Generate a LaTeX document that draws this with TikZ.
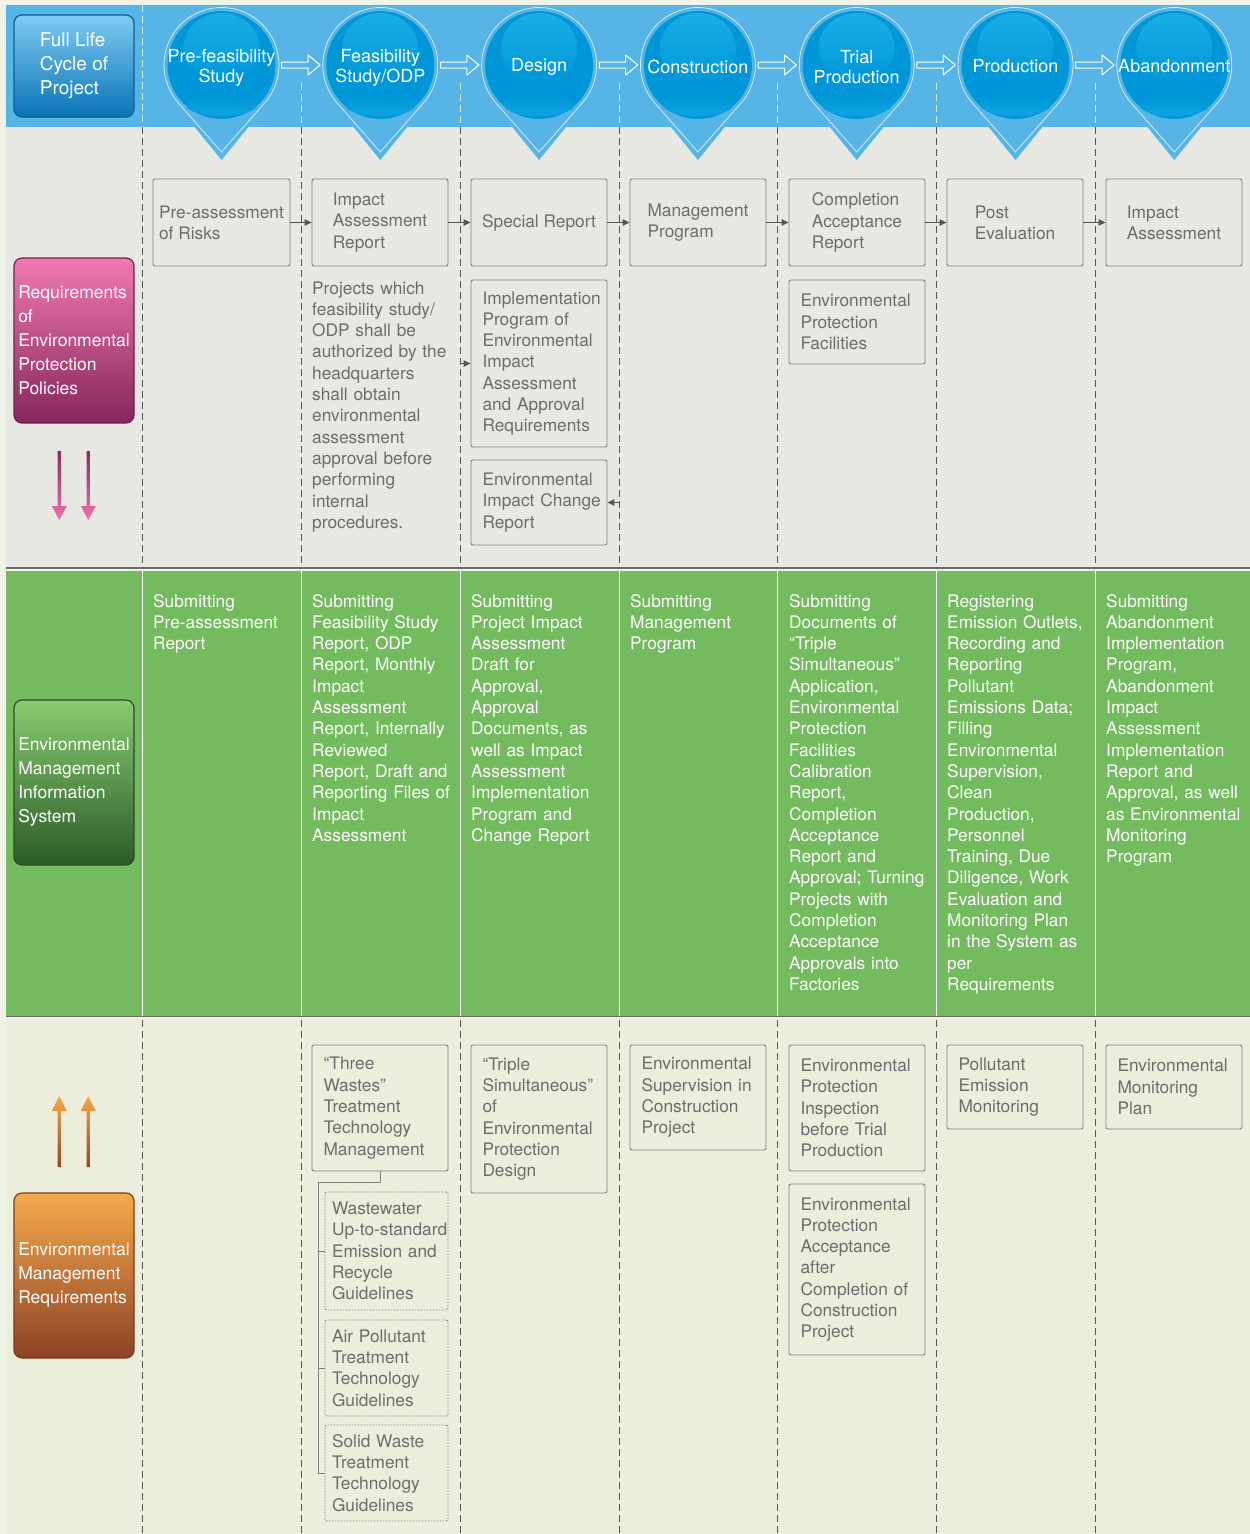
\documentclass[tikz,border=0pt]{standalone}
\usepackage{fontspec}
\setmainfont{TeX Gyre Heros}
\usetikzlibrary{arrows.meta,calc}

\definecolor{bandblue}{HTML}{56B5E6}
\definecolor{pinblue}{HTML}{0096D8}
\definecolor{pinhi}{HTML}{1AAEE6}
\definecolor{marginc}{HTML}{EEF3E6}
\definecolor{grayband}{HTML}{E8E8E2}
\definecolor{greenband}{HTML}{74BB5F}
\definecolor{beigeband}{HTML}{EDEDDE}
\definecolor{sepline}{HTML}{6A6A6A}
\definecolor{txtc}{HTML}{6C6C6C}
\definecolor{boxline}{HTML}{808080}
\definecolor{dashc}{HTML}{555555}
\definecolor{lightdash}{HTML}{D6ECF8}
\definecolor{arrowc}{HTML}{555555}
\definecolor{pinkdark}{HTML}{8B2A5F}
\definecolor{pinkarr}{HTML}{EE72A9}
\definecolor{orarr}{HTML}{F5A84A}
\definecolor{ordark}{HTML}{94461F}
\definecolor{lifetop}{HTML}{7ECBF2}
\definecolor{lifebot}{HTML}{0A74B6}
\definecolor{lifeedge}{HTML}{0A5E90}
\definecolor{reqtop}{HTML}{F07AB0}
\definecolor{reqbot}{HTML}{86265C}
\definecolor{reqedge}{HTML}{74204F}
\definecolor{emistop}{HTML}{88CB70}
\definecolor{emisbot}{HTML}{2C5A2A}
\definecolor{emisedge}{HTML}{284E26}
\definecolor{emrtop}{HTML}{F6AA4C}
\definecolor{emrbot}{HTML}{8C4226}
\definecolor{emredge}{HTML}{7A3A20}

\newcommand\BodyFnt{\fontsize{17.3}{21.3}\selectfont}
\newcommand\SideFnt{\fontsize{17.5}{24}\selectfont}
\newcommand\PinFnt{\fontsize{18}{20}\selectfont}

% [style] name x1 y1 x2 y2 text
\newcommand\PBox[7][box]{\node[#1,minimum width={#5-#3},minimum height={#6-#4}] (#2) at ({(#3+#5)/2},{(#4+#6)/2}) {#7};}
\newcommand\GText[3]{\node[gtext] (#1) at (#2,607) {#3};}

\begin{document}
\begin{tikzpicture}[x=1pt,y=-1pt,
  box/.style={draw=boxline, line width=0.9, rounded corners=2, text=txtc, align=left, inner sep=1, font=\BodyFnt},
  lbox/.style={box, text width=113, inner xsep=11.5},
  dbox/.style={box, text width=109, inner xsep=7, dash pattern=on 1.5pt off 1.5pt},
  gtext/.style={anchor=base west, text width=150, align=left, text=white, inner sep=0, font=\BodyFnt},
  sidebox/.style={rounded corners=8, minimum width=120, text=white, align=left, inner sep=2, font=\SideFnt, line width=1.2},
  sarrow/.style={draw=arrowc, line width=1, -{Triangle[length=7pt,width=6.5pt]}},
  conn/.style={draw=boxline, line width=1},
  pinouter/.style={circle, fill=bandblue, minimum size=120, inner sep=0},
  pininner/.style={circle, fill=pinblue, minimum size=108, inner sep=0},
  pintext/.style={text=white, align=center, font=\PinFnt, inner sep=0},
  hollow/.style={draw=white, line width=1, fill=bandblue, line join=round},
  gdash/.style={draw=dashc, line width=0.9, dash pattern=on 7pt off 4pt},
  ldash/.style={draw=lightdash, line width=0.9, dash pattern=on 7pt off 4pt}
]
\useasboundingbox (0,0) rectangle (1250,1534);
% ---------- backgrounds ----------
\fill[marginc] (0,0) rectangle (1250,1534);
\fill[bandblue] (6,5) rectangle (1250,127);
\fill[grayband] (6,127) rectangle (1250,567);
\draw[sepline, line width=1.5] (6,568) -- (1250,568);
\fill[greenband] (6,571) rectangle (1250,1015.5);
\draw[sepline, line width=1.5] (6,1016.5) -- (1250,1016.5);
\fill[beigeband] (6,1019) rectangle (1250,1534);

% ---------- column dividers ----------
\draw[ldash] (142,5) -- (142,127);
\foreach \x in {301,460,619,777,936,1095}{\draw[ldash] (\x,83) -- (\x,127);}
\foreach \x in {142,301,460,619,777,936,1095}{
  \draw[gdash] (\x,127) -- (\x,567);
  \draw[white, line width=0.9] (\x,571) -- (\x,1015.5);
  \draw[gdash] (\x,1020) -- (\x,1534);
}

% ---------- stage pins ----------
\foreach \i/\cx in {1/221.5,2/380.3,3/539.1,4/697.9,5/856.7,6/1015.5,7/1174.3}{
  \fill[bandblue] (\cx-46.5,102.9) -- (\cx,160) -- (\cx+46.5,102.9) -- cycle;
  \node[pinouter] (p\i) at (\cx,65) {};
  \draw[white, opacity=0.75, line width=0.8] (\cx,152) -- ([shift={(\cx,65)}]41.4:57.5) arc[start angle=41.4, end angle=-221.4, radius=57.5] -- cycle;
  \node[pininner] (s\i) at (\cx,65) {};
  \shade[top color=pinhi, bottom color=pinblue] (\cx,48) ellipse[x radius=38, y radius=35];
  \shade[top color=pinblue, bottom color=pinhi!55!pinblue] (\cx,105) ellipse[x radius=35, y radius=11];
}
\node[pintext] (t1) at (221.5,67.5) {Pre-feasibility\\Study};
\node[pintext] (t2) at (380.3,67.5) {Feasibility\\Study/ODP};
\node[pintext] (t3) at (539.1,66.5) {Design};
\node[pintext] (t4) at (697.9,66.5) {Construction};
\node[pintext] (t5) at (856.7,67.5) {Trial\\Production};
\node[pintext] (t6) at (1015.5,66.5) {Production};
\node[pintext] (t7) at (1174.3,66.5) {Abandonment};
\foreach \a/\b in {1/2,2/3,3/4,4/5,5/6,6/7}{
  \draw[hollow] ([yshift=3]p\a.east) -- ([xshift=-12,yshift=3]p\b.west) -- ([xshift=-12,yshift=10]p\b.west) -- (p\b.west) -- ([xshift=-12,yshift=-10]p\b.west) -- ([xshift=-12,yshift=-3]p\b.west) -- ([yshift=-3]p\a.east) -- cycle;
}

% ---------- side boxes ----------
\node[sidebox, minimum height=102, top color=lifetop, bottom color=lifebot, draw=lifeedge, font=\fontsize{19}{24}\selectfont] (life) at (74,66) {Full Life\\Cycle of\\Project};
\node[sidebox, minimum height=165, top color=reqtop, bottom color=reqbot, draw=reqedge] (req) at (74,340.5) {Requirements\\of\\Environmental\\Protection\\Policies};
\node[sidebox, minimum height=165, top color=emistop, bottom color=emisbot, draw=emisedge] (emis) at (74,782.5) {Environmental\\Management\\Information\\System};
\node[sidebox, minimum height=165, top color=emrtop, bottom color=emrbot, draw=emredge] (emr) at (74,1275.5) {Environmental\\Management\\Requirements};

\foreach \ax in {59.3,88.3}{
  \shade[top color=pinkdark, bottom color=pinkarr] (\ax-1.6,451) -- (\ax+1.6,451) -- (\ax+1.6,506) -- (\ax+7.5,506) -- (\ax,520) -- (\ax-7.5,506) -- (\ax-1.6,506) -- cycle;
  \shade[top color=orarr, bottom color=ordark] (\ax,1096) -- (\ax+7.5,1111) -- (\ax+1.6,1111) -- (\ax+1.6,1167) -- (\ax-1.6,1167) -- (\ax-1.6,1111) -- (\ax-7.5,1111) -- cycle;
}

% ---------- requirement row ----------
\PBox{b1}{153}{179}{290}{266}{Pre-assessment\\of Risks}
\PBox{b2}{312}{179}{448}{266}{Impact\\Assessment\\Report}
\PBox{b3}{471}{179}{607}{266}{Special Report}
\PBox{b4}{630}{179}{766}{266}{Management\\Program}
\PBox{b5}{789}{179}{925}{266}{Completion\\Acceptance\\Report}
\PBox{b6}{947}{179}{1083}{266}{Post\\Evaluation}
\PBox{b7}{1106}{179}{1242}{266}{Impact\\Assessment}
\foreach \a/\b in {b1/b2,b2/b3,b3/b4,b4/b5,b5/b6,b6/b7}{\draw[sarrow] (\a.east) -- (\b.west);}

\PBox[lbox]{impl}{471}{280}{607}{447}{Implementation\\Program of\\Environmental\\Impact\\Assessment\\and Approval\\Requirements}
\PBox[lbox]{chg}{471}{460}{607}{545}{Environmental\\\mbox{Impact Change}\\Report}
\PBox[lbox]{epf}{789}{280}{925}{364}{Environmental\\Protection\\Facilities}
\coordinate (implin) at (460,363.5);
\coordinate (chgin) at (619,502.5);
\draw[sarrow] (implin) -- (impl.west);
\draw[sarrow] (chgin) -- (chg.east);

\node[anchor=base west, text width=140, align=left, text=txtc, inner sep=0, font=\BodyFnt] (note) at (312,294) {Projects which\\feasibility study/\\ODP shall be\\authorized by the\\headquarters\\shall obtain\\environmental\\assessment\\approval before\\performing\\internal\\procedures.};

% ---------- information system row ----------
\GText{g1}{153}{Submitting\\Pre-assessment\\Report}
\GText{g2}{312}{Submitting\\Feasibility Study\\Report, ODP\\Report, Monthly\\Impact\\Assessment\\Report, Internally\\Reviewed\\Report, Draft and\\Reporting Files of\\Impact\\Assessment}
\GText{g3}{471}{Submitting\\Project Impact\\Assessment\\Draft for\\Approval,\\Approval\\Documents, as\\well as Impact\\Assessment\\Implementation\\Program and\\Change Report}
\GText{g4}{630}{Submitting\\Management\\Program}
\GText{g5}{789}{Submitting\\Documents of\\“Triple\\Simultaneous”\\Application,\\Environmental\\Protection\\Facilities\\Calibration\\Report,\\Completion\\Acceptance\\Report and\\Approval; Turning\\Projects with\\Completion\\Acceptance\\Approvals into\\Factories}
\GText{g6}{947}{Registering\\Emission Outlets,\\Recording and\\Reporting\\Pollutant\\Emissions Data;\\Filling\\Environmental\\Supervision,\\Clean\\Production,\\Personnel\\Training, Due\\Diligence, Work\\Evaluation and\\Monitoring Plan\\in the System as\\per\\Requirements}
\GText{g7}{1106}{Submitting\\Abandonment\\Implementation\\Program,\\Abandonment\\Impact\\Assessment\\Implementation\\Report and\\Approval, as well\\as Environmental\\Monitoring\\Program}

% ---------- management requirements row ----------
\PBox[lbox]{tw}{312}{1045}{448}{1171}{“Three\\Wastes”\\Treatment\\Technology\\Management}
\PBox[dbox]{ww}{325}{1192}{448}{1310}{Wastewater\\\mbox{Up-to-standard}\\\mbox{Emission and}\\Recycle\\Guidelines}
\PBox[dbox]{air}{325}{1320}{448}{1416}{Air Pollutant\\Treatment\\Technology\\Guidelines}
\PBox[dbox]{sw}{325}{1425}{448}{1521}{Solid Waste\\Treatment\\Technology\\Guidelines}
\coordinate (tj) at (318,1182);
\draw[conn] (tw.south) |- (tj) |- (sw.west);
\draw[conn] (ww.west) -- (ww.west -| tj);
\draw[conn] (air.west) -- (air.west -| tj);

\PBox[lbox]{ts}{471}{1045}{607}{1193}{“Triple\\\mbox{Simultaneous”}\\of\\Environmental\\Protection\\Design}
\PBox[lbox]{es}{630}{1045}{766}{1150}{Environmental\\\mbox{Supervision in}\\Construction\\Project}
\PBox[lbox]{epi}{789}{1045}{925}{1171}{Environmental\\Protection\\Inspection\\before Trial\\Production}
\PBox[lbox]{epa}{789}{1184}{925}{1355}{Environmental\\Protection\\Acceptance\\after\\\mbox{Completion of}\\Construction\\Project}
\PBox[lbox]{pem}{947}{1045}{1083}{1129}{Pollutant\\Emission\\Monitoring}
\PBox[lbox]{emp}{1106}{1045}{1242}{1129}{Environmental\\Monitoring\\Plan}
\end{tikzpicture}
\end{document}
